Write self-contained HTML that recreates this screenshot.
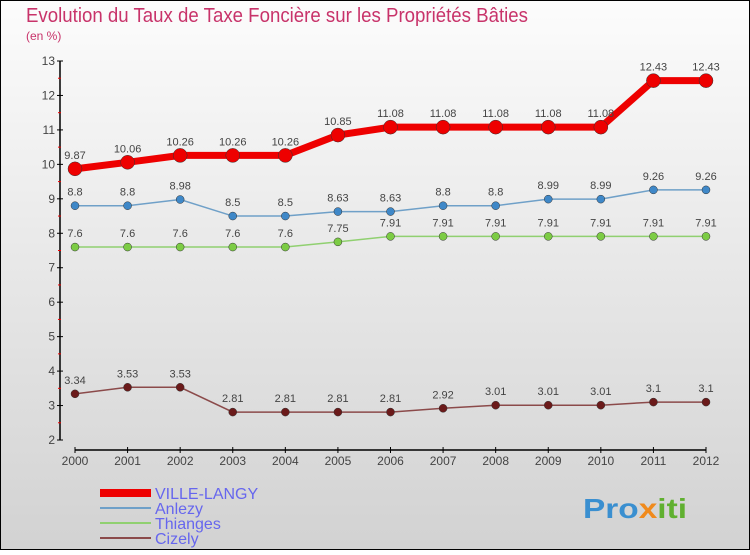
<!DOCTYPE html>
<html><head><meta charset="utf-8"><style>
html,body{margin:0;padding:0}
body{width:750px;height:550px;overflow:hidden;font-family:"Liberation Sans",sans-serif}
</style></head><body>
<svg id="c" width="750" height="550" xmlns="http://www.w3.org/2000/svg">
<defs><linearGradient id="bg" x1="0" y1="0" x2="0" y2="1"><stop offset="0" stop-color="#fcfcfc"/><stop offset="1" stop-color="#d2d2d2"/></linearGradient></defs>
<rect x="0.5" y="0.5" width="749" height="549" fill="url(#bg)" stroke="#000"/>
<text x="26" y="22" font-size="20" fill="#c8336a" textLength="502" lengthAdjust="spacingAndGlyphs">Evolution du Taux de Taxe Foncière sur les Propriétés Bâties</text>
<text x="26" y="40" font-size="12" fill="#c8336a">(en %)</text>
<g id="axes"></g><g id="series"></g>
<g>
<rect x="100" y="489" width="51" height="8" fill="#e00"/>
<text x="155" y="499" font-size="16" fill="#6666ee">VILLE-LANGY</text>
<line x1="100" y1="508" x2="151" y2="508" stroke="#6fa0c8" stroke-width="2"/>
<text x="155" y="514" font-size="16" fill="#6666ee">Anlezy</text>
<line x1="100" y1="523" x2="151" y2="523" stroke="#90d070" stroke-width="2"/>
<text x="155" y="529" font-size="16" fill="#6666ee">Thianges</text>
<line x1="100" y1="538" x2="151" y2="538" stroke="#8b4a4a" stroke-width="2"/>
<text x="155" y="544" font-size="16" fill="#6666ee">Cizely</text>
</g>
<text x="583" y="518" font-size="28" font-weight="bold" fill="#3a8fd0" textLength="104" lengthAdjust="spacingAndGlyphs">Pro<tspan fill="#f08a1c">x</tspan><tspan fill="#60b030">iti</tspan></text>
</svg>
<script>
const years=[2000,2001,2002,2003,2004,2005,2006,2007,2008,2009,2010,2011,2012];
const yTicks=[2,3,4,5,6,7,8,9,10,11,12,13];
const villeLangy=[9.87,10.06,10.26,10.26,10.26,10.85,11.08,11.08,11.08,11.08,11.08,12.43,12.43];
const anlezy=[8.8,8.8,8.98,8.5,8.5,8.63,8.63,8.8,8.8,8.99,8.99,9.26,9.26];
const thianges=[7.6,7.6,7.6,7.6,7.6,7.75,7.91,7.91,7.91,7.91,7.91,7.91,7.91];
const cizely=[3.34,3.53,3.53,2.81,2.81,2.81,2.81,2.92,3.01,3.01,3.01,3.1,3.1];
const NS="http://www.w3.org/2000/svg";
const X=i=>75+i*(706-75)/(years.length-1);
const Y=v=>440-(v-2)*(440-61)/11;
function mk(t,a,p){const e=document.createElementNS(NS,t);for(const k in a)e.setAttribute(k,a[k]);p.appendChild(e);return e;}
const ax=document.getElementById('axes');
let l=mk('line',{x1:60,y1:Y(13),x2:60,y2:Y(2),stroke:'#000','stroke-width':1.5},ax);


l=mk('line',{x1:X(0),y1:450,x2:X(12),y2:450,stroke:'#000','stroke-width':1.5},ax);


yTicks.forEach(v=>{
 mk('line',{x1:57,y1:Y(v),x2:63,y2:Y(v),stroke:'#000'},ax);
 if(v<13)mk('line',{x1:58,y1:Y(v+0.5),x2:61,y2:Y(v+0.5),stroke:'#e00'},ax);
 const t=mk('text',{x:55,y:Y(v)+4,'font-size':12,fill:'#444','text-anchor':'end'},ax);
 t.textContent=v;
 
 
});
years.forEach((yr,i)=>{
 mk('line',{x1:X(i),y1:447,x2:X(i),y2:453,stroke:'#000'},ax);
 const t=mk('text',{x:X(i),y:465,'font-size':12,fill:'#444','text-anchor':'middle'},ax);
 t.textContent=yr;
 
 
});
const sg=document.getElementById('series');
function draw(vals,color,dot,w,r,name){
 const g=mk('g',{},sg);
 
 
 mk('polyline',{points:vals.map((v,i)=>X(i)+','+Y(v)).join(' '),fill:'none',stroke:color,'stroke-width':w},g);
 vals.forEach((v,i)=>{
  const c=mk('circle',{cx:X(i),cy:Y(v),r:r,fill:dot,stroke:'#333','stroke-width':0.5},g);
  
  
  const t=mk('text',{x:X(i),y:Y(v)-10,'font-size':11,fill:'#444','text-anchor':'middle'},g);
  t.textContent=v;
  
  
 });
}
draw(cizely,'#8b4a4a','#6b1a1a',1.5,4,'cizely');
draw(thianges,'#90d070','#7ccc44',1.5,4,'thianges');
draw(anlezy,'#6fa0c8','#3f88c8',1.5,4,'anlezy');
draw(villeLangy,'#e00','#e00',7,7,'ville-langy');
</script>
</body></html>
